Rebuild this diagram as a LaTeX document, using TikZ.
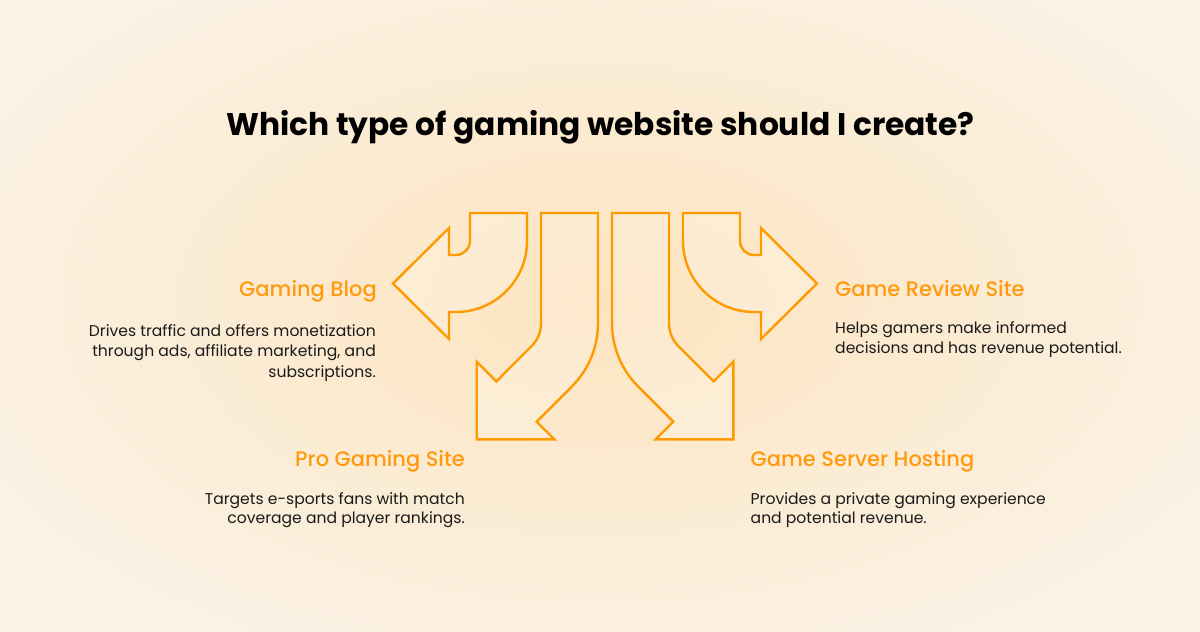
\documentclass[tikz,border=0pt]{standalone}
\usepackage{fontspec}
\setmainfont{Poppins}
\newfontfamily\popmed{Poppins}[UprightFont=* Medium]
\definecolor{org}{HTML}{FF9A00}
\definecolor{orgtxt}{HTML}{FF9A0F}
\definecolor{bgin}{HTML}{FDE4BF}
\definecolor{bgout}{HTML}{FAF3E8}
\definecolor{txt}{HTML}{1A1A1A}
\tikzset{
  bigarrow/.style={draw=org, line width=2.4pt, line join=miter, fill=white, fill opacity=0.22, draw opacity=1},
  titletxt/.style={anchor=base, inner sep=0pt, text=black, font=\fontsize{31.3}{36}\selectfont\bfseries},
  headL/.style={anchor=base east, inner sep=0pt, text=orgtxt, font=\fontsize{21}{26}\selectfont\popmed},
  headR/.style={anchor=base west, inner sep=0pt, text=orgtxt, font=\fontsize{21}{26}\selectfont\popmed},
  bodyL/.style={anchor=base east, inner sep=0pt, text=txt, font=\fontsize{15.6}{20}\selectfont},
  bodyR/.style={anchor=base west, inner sep=0pt, text=txt, font=\fontsize{15.6}{20}\selectfont}
}
\def\arrowA{(470,213) -- (470,241) arc[start angle=0,end angle=90,radius=14] -- (449,255) -- (449,228) -- (393,283.5) -- (449,339) -- (449,312) -- (456,312) arc[start angle=90,end angle=0,radius=71] -- (527,213) -- cycle}
\def\arrowB{(541,213) -- (541,323.5) arc[start angle=0,end angle=45,radius=32] -- (496.4,381.4) -- (476.7,361.7) -- (476.7,439.3) -- (554.3,439.3) -- (536.7,421.7) -- (571.9,386.4) arc[start angle=45,end angle=0,radius=89] -- (598,213) -- cycle}
\begin{document}
\begin{tikzpicture}[x=1pt,y=-1pt]
\useasboundingbox (0,0) rectangle (1200,632);
\fill[bgout] (0,0) rectangle (1200,632);
\shade[inner color=bgin, outer color=bgout] (-150,-120) rectangle (1350,720);
% arrows
\draw[bigarrow] \arrowA;
\draw[bigarrow] \arrowB;
\begin{scope}[shift={(1210,0)}, xscale=-1]
\draw[bigarrow] \arrowA;
\draw[bigarrow] \arrowB;
\end{scope}
% title
\node[titletxt] (title) at (600.5,135) {Which type of gaming website should I create?};
% Gaming Blog
\node[headL] (blogh) at (377,296.7) {Gaming Blog};
\node[bodyL] (blog1) at (376,336.7) {Drives traffic and offers monetization};
\node[bodyL] (blog2) at (376,356.8) {through ads, affiliate marketing, and};
\node[bodyL] (blog3) at (376,377) {subscriptions.};
% Game Review Site
\node[headR] (revh) at (835,296) {Game Review Site};
\node[bodyR] (rev1) at (835,333.3) {Helps gamers make informed};
\node[bodyR] (rev2) at (835,353.3) {decisions and has revenue potential.};
% Pro Gaming Site
\node[headL] (proh) at (465,466) {Pro Gaming Site};
\node[bodyL] (pro1) at (465,504) {Targets e-sports fans with match};
\node[bodyL] (pro2) at (465,523.5) {coverage and player rankings.};
% Game Server Hosting
\node[headR] (srvh) at (750.5,466) {Game Server Hosting};
\node[bodyR] (srv1) at (750.5,504) {Provides a private gaming experience};
\node[bodyR] (srv2) at (750.5,523.5) {and potential revenue.};
\end{tikzpicture}
\end{document}
